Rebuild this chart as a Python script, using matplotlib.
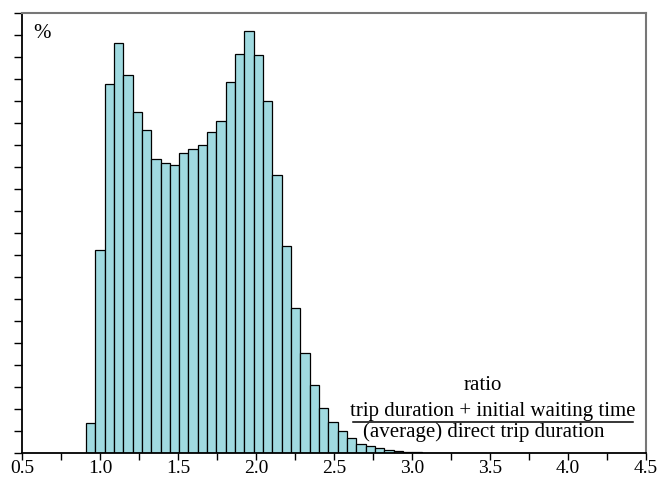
import numpy as np
import matplotlib
matplotlib.use("Agg")
import matplotlib.pyplot as plt
from matplotlib.lines import Line2D

plt.rcParams['font.family'] = ['Liberation Serif', 'DejaVu Serif']

# histogram of the ratio, share of trips per bin (%)
bin_start = 0.91
bin_width = 0.0598
share = [0.68, 4.63, 8.39, 9.32, 8.59, 7.76, 7.34, 6.68, 6.59, 6.55,
         6.82, 6.91, 7.00, 7.30, 7.55, 8.43, 9.08, 9.59, 9.05, 8.01,
         6.32, 4.71, 3.31, 2.27, 1.55, 1.04, 0.70, 0.50, 0.34, 0.22,
         0.17, 0.11, 0.075, 0.055, 0.04, 0.03, 0.008, 0.006, 0.005, 0.004,
         0.003, 0.003, 0.002]
x_ticks = [0.5, 1.0, 1.5, 2.0, 2.5, 3.0, 3.5, 4.0, 4.5]
x_labels = ['0.5', '1.0', '1.5', '2.0', '2.5', '3.0', '3.5', '4.0', '4.5']

lefts = bin_start + bin_width * np.arange(len(share))

fig = plt.figure(figsize=(6.58, 4.78), dpi=100)
ax = fig.add_axes([0.0334, 0.0517, 0.948, 0.9205])

ax.bar(lefts, share, width=bin_width, align='edge', color='#a0dae0',
       edgecolor='black', linewidth=0.9)

ax.set_xlim(0.5, 4.5)
ax.set_ylim(0, 10)
ax.set_xticks(x_ticks)
ax.set_xticklabels(x_labels, fontsize=14)
ax.set_xticks(np.arange(0.75, 4.5, 0.5), minor=True)
ax.set_yticks(np.arange(0, 10.01, 0.5))
ax.set_yticklabels([])
ax.tick_params(axis='both', which='both', direction='out', length=6,
               width=1, color='black')
ax.tick_params(axis='x', which='both', length=5, pad=0)

for side in ['left', 'bottom']:
    ax.spines[side].set_color('black')
    ax.spines[side].set_linewidth(1.3)
for side in ['top', 'right']:
    ax.spines[side].set_color('#777777')
    ax.spines[side].set_linewidth(1.5)

ax.text(0.018, 0.975, '%', transform=ax.transAxes, fontsize=15,
        ha='left', va='top')

# x axis caption with a fraction
ax.text(3.455, 1.55, 'ratio', fontsize=15, ha='center', va='center')
ax.text(3.52, 0.94, 'trip duration + initial waiting time', fontsize=15,
        ha='center', va='center')
ax.add_line(Line2D([2.62, 4.42], [0.72, 0.72], color='black',
                   linewidth=1.1))
ax.text(3.46, 0.47, '(average) direct trip duration', fontsize=15,
        ha='center', va='center')

fig.savefig('out.png', dpi=100)
